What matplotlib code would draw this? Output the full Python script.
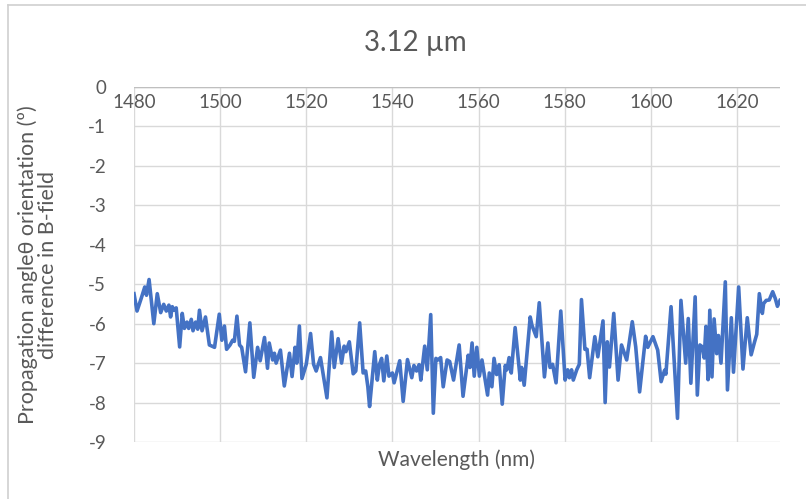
import matplotlib
matplotlib.use("Agg")
import matplotlib.pyplot as plt
from matplotlib.lines import Line2D

plt.rcParams['font.family'] = ['Lato', 'DejaVu Sans']
plt.rcParams['axes.unicode_minus'] = False

# wavelength (nm) and angle difference (deg)
wavelength = [
    1480.0, 1480.7, 1481.7, 1482.5, 1482.9, 1483.5, 1483.9, 1484.6, 1485.4, 1486.2,
    1486.9, 1487.5, 1488.1, 1488.5, 1488.9, 1489.3, 1489.8, 1490.6, 1491.2, 1491.7,
    1492.3, 1492.7, 1493.3, 1493.7, 1494.3, 1494.8, 1495.2, 1495.8, 1496.6, 1497.5,
    1498.7, 1499.8, 1500.4, 1501.0, 1501.5, 1502.3, 1502.9, 1503.3, 1503.9, 1504.5,
    1505.0, 1505.9, 1506.9, 1507.8, 1508.7, 1509.3, 1510.3, 1511.0, 1511.4, 1512.2,
    1512.6, 1513.0, 1514.0, 1514.9, 1516.1, 1516.7, 1517.4, 1517.8, 1518.4, 1519.0,
    1520.0, 1521.0, 1521.7, 1522.3, 1523.3, 1524.8, 1525.9, 1526.5, 1527.4, 1528.2,
    1528.8, 1529.2, 1530.0, 1530.9, 1531.5, 1532.4, 1533.2, 1533.8, 1534.3, 1534.7,
    1535.9, 1536.5, 1537.0, 1537.5, 1538.0, 1538.7, 1539.2, 1540.0, 1540.4, 1541.7,
    1542.5, 1543.5, 1544.5, 1545.0, 1545.6, 1546.2, 1546.6, 1547.5, 1548.1, 1548.9,
    1549.5, 1550.1, 1550.6, 1551.2, 1551.8, 1552.7, 1553.3, 1554.2, 1555.5, 1556.4,
    1557.6, 1558.0, 1558.5, 1559.0, 1559.6, 1560.2, 1560.8, 1562.1, 1562.5, 1563.1,
    1563.6, 1564.2, 1564.8, 1565.5, 1566.2, 1566.6, 1567.1, 1567.6, 1568.5, 1569.7,
    1570.0, 1570.6, 1572.0, 1572.4, 1573.4, 1574.1, 1575.3, 1576.1, 1576.6, 1577.2,
    1578.0, 1579.1, 1580.1, 1580.7, 1581.1, 1581.6, 1582.0, 1582.8, 1583.4, 1583.9,
    1584.7, 1585.2, 1585.8, 1587.0, 1587.7, 1588.9, 1589.4, 1589.9, 1590.4, 1591.4,
    1592.4, 1593.2, 1594.4, 1595.7, 1596.5, 1597.4, 1598.8, 1599.3, 1600.5, 1601.6,
    1602.4, 1603.2, 1603.5, 1604.7, 1606.2, 1607.0, 1608.1, 1608.7, 1609.3, 1610.3,
    1610.8, 1611.4, 1612.0, 1612.4, 1612.8, 1613.3, 1613.7, 1614.2, 1614.7, 1615.3,
    1615.7, 1616.3, 1617.3, 1617.8, 1618.7, 1619.2, 1620.4, 1621.4, 1622.4, 1623.3,
    1624.1, 1624.6, 1625.2, 1625.9, 1626.2, 1626.8, 1627.5, 1628.3, 1628.9, 1629.4,
    1630.0,
]
angle = [
    -5.24, -5.68, -5.35, -5.07, -5.28, -4.88, -5.28, -6.00, -5.24, -5.72,
    -5.51, -5.68, -5.53, -5.83, -5.57, -5.66, -5.60, -6.59, -5.74, -6.12,
    -5.96, -6.12, -5.89, -6.18, -5.96, -6.14, -5.66, -6.18, -5.83, -6.54,
    -6.60, -5.76, -6.42, -6.06, -6.65, -6.54, -6.42, -6.45, -5.81, -6.54,
    -6.60, -7.22, -5.98, -7.36, -6.60, -6.94, -6.35, -7.13, -6.49, -6.92,
    -6.75, -7.00, -6.67, -7.58, -6.75, -7.34, -6.60, -7.00, -6.06, -7.39,
    -7.03, -6.25, -7.03, -7.20, -6.86, -7.88, -6.21, -7.11, -6.38, -7.00,
    -6.57, -6.71, -6.46, -7.27, -7.20, -5.98, -7.25, -7.20, -7.60, -8.10,
    -6.71, -7.43, -7.03, -6.88, -7.45, -6.82, -7.33, -7.25, -7.50, -6.94,
    -7.97, -6.91, -7.37, -7.06, -7.20, -7.04, -7.43, -6.57, -7.17, -5.77,
    -8.27, -6.88, -6.92, -6.86, -7.60, -6.92, -6.96, -7.43, -6.54, -7.84,
    -6.80, -7.11, -6.49, -7.33, -6.60, -7.33, -6.92, -7.81, -7.25, -7.60,
    -6.88, -7.29, -7.04, -8.04, -7.06, -7.17, -6.86, -7.25, -6.10, -7.43,
    -7.11, -7.56, -5.83, -6.04, -6.33, -5.47, -7.35, -6.49, -7.11, -7.03,
    -7.50, -5.68, -7.43, -7.17, -7.37, -7.17, -7.43, -7.17, -7.03, -5.39,
    -6.65, -6.65, -7.37, -6.33, -6.84, -5.93, -8.00, -6.46, -7.10, -5.74,
    -7.43, -6.54, -6.92, -5.95, -6.59, -7.73, -6.32, -6.60, -6.33, -6.67,
    -7.47, -7.18, -7.28, -5.57, -8.40, -5.41, -7.00, -5.87, -7.51, -5.32,
    -7.81, -6.54, -6.59, -6.87, -6.07, -7.42, -5.66, -7.35, -5.88, -6.76,
    -6.30, -7.00, -4.94, -7.68, -5.85, -7.23, -5.07, -7.15, -5.85, -6.79,
    -6.46, -6.27, -5.24, -5.74, -5.49, -5.41, -5.40, -5.19, -5.36, -5.56,
    -5.41,
]
xticks = [1480, 1500, 1520, 1540, 1560, 1580, 1600, 1620]
yticks = [0, -1, -2, -3, -4, -5, -6, -7, -8, -9]

text_col = '#595959'
grid_col = '#D9D9D9'

fig = plt.figure(figsize=(8.06, 4.99), dpi=100)
ax = fig.add_axes([134 / 806, 1 - 442 / 499, (780 - 134) / 806, (442 - 87) / 499])

ax.plot(wavelength, angle, color='#4472C4', lw=2.6, solid_joinstyle='round', zorder=3)

ax.set_xlim(1480, 1630)
ax.set_ylim(-9, 0)
ax.set_xticks(xticks)
ax.set_yticks(yticks)
ax.grid(True, color=grid_col, lw=1.0)
ax.set_axisbelow(True)
for s in ax.spines.values():
    s.set_visible(False)
ax.axhline(0, color='#BFBFBF', lw=1.0, zorder=2)

ax.tick_params(axis='x', length=0, labelbottom=False)
ax.tick_params(axis='y', length=0, pad=20, labelsize=13.5, labelcolor=text_col)
for t in xticks:
    ax.text(t, -0.17, str(t), ha='center', va='top', fontsize=13.5, color=text_col)

ax.set_xlabel('Wavelength (nm)', fontsize=15, color=text_col, labelpad=5)
fig.text(38 / 806, 1 - 265 / 499,
         'Propagation angleθ orientation (º)\ndifference in B-field',
         rotation=90, ha='center', va='center', multialignment='center',
         fontsize=15.5, color=text_col, linespacing=1.0)
fig.text(415 / 806, 1 - 43 / 499, '3.12 µm', ha='center', va='center',
         fontsize=20, color=text_col)

# chart area border
fig.add_artist(Line2D([8 / 806, 8 / 806], [0, 1 - 5 / 499], color='#D0D0D0', lw=1.2))
fig.add_artist(Line2D([8 / 806, 1], [1 - 5 / 499, 1 - 5 / 499], color='#D0D0D0', lw=1.2))

fig.savefig('out.png', dpi=100)
